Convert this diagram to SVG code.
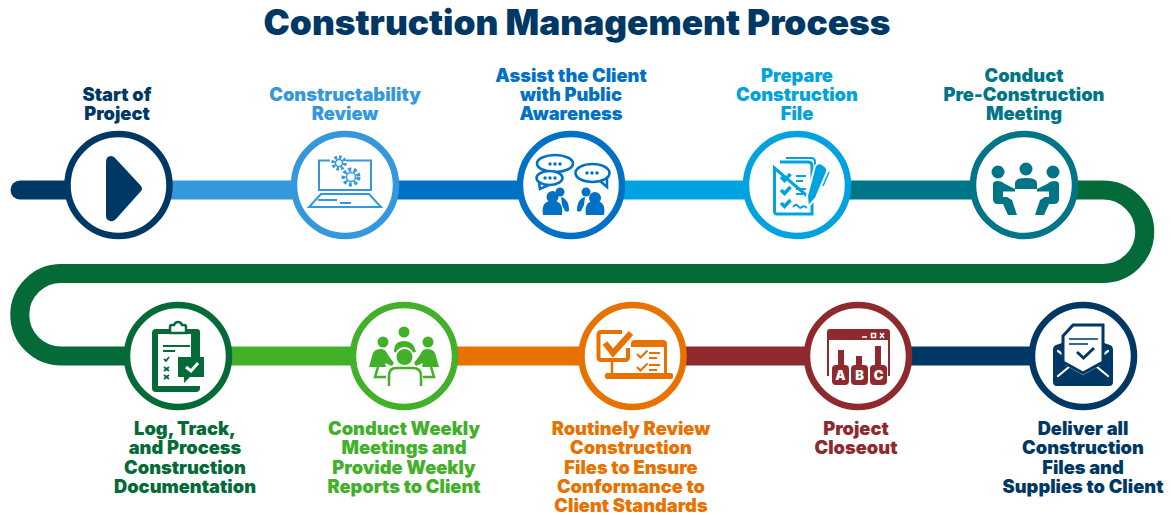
<svg xmlns="http://www.w3.org/2000/svg" width="1171" height="515" viewBox="0 0 1171 515">
<style>
text{font-family:"Inter","Liberation Sans",sans-serif;font-weight:900;text-anchor:middle;font-size:18.3px}
.title{font-size:35px}
text.abc{font-size:13px;fill:#fff}
.ring{fill:#fff;stroke-width:6.5}
.bar{fill:none;stroke-width:19}
.navy{fill:#003865}.sky{fill:#3698dc}.blue{fill:#0071c5}.cyan{fill:#00a3e0}.teal{fill:#007588}.dg{fill:#046a38}.lg{fill:#43b02a}.or{fill:#e87200}.red{fill:#8e2a2e}
</style>
<text class="title navy" x="577" y="35" textLength="627" lengthAdjust="spacingAndGlyphs">Construction Management Process</text>
<g id="connectors" class="bar">
<path d="M20 190H119" stroke="#003865" stroke-linecap="round"/>
<path d="M119 190H345" stroke="#3698dc"/>
<path d="M345 190H571" stroke="#0071c5"/>
<path d="M571 190H797" stroke="#00a3e0"/>
<path d="M797 190H1024" stroke="#007588"/>
<path d="M1024 190H1103A41.750 41.750 0 0 1 1103 273.500H61A41.250 41.250 0 0 0 61 356H178" stroke="#046a38"/>
<path d="M178 356H404" stroke="#43b02a"/>
<path d="M404 356H632" stroke="#e87200"/>
<path d="M632 356H858" stroke="#8e2a2e"/>
<path d="M858 356H1083" stroke="#003865"/>
</g>
<g id="n1"><circle class="ring" cx="118.500" cy="185" r="51" stroke="#003865"/><path class="navy" d="M106 162q0-6 5-6 3 0 5 3l25 27q2 3 0 5l-25 28q-3 3-6 2-4-1-4-5z"/>
<text class="navy" x="117" y="101">Start of</text><text class="navy" x="117" y="120">Project</text></g>
<g id="n2"><circle class="ring" cx="345" cy="185" r="51" stroke="#3698dc"/>
<g fill="none" stroke="#3698dc" stroke-width="2"><path d="M330 160.500H319V190H371V160.500H346"/><path d="M321 194L309 207H381L369 194ZM318 200H337M340 203H351"/><circle cx="339" cy="163" r="6" stroke-width="3.500" stroke-dasharray="2.600 2"/><circle cx="339" cy="163" r="3.500" stroke-width="1.500"/><circle cx="351" cy="177" r="7.500" fill="#fff" stroke-width="4" stroke-dasharray="3 2.400"/><circle cx="351" cy="177" r="4.500" stroke-width="1.500"/></g>
<text class="sky" x="345" y="101">Constructability</text><text class="sky" x="345" y="120">Review</text></g>
<g id="n3"><circle class="ring" cx="571" cy="185" r="51" stroke="#0071c5"/>
<g fill="none" stroke="#0071c5" stroke-width="2.600"><ellipse cx="555" cy="163.500" rx="18" ry="8.500"/><ellipse cx="549.500" cy="178" rx="13" ry="7" fill="#fff"/><path d="M539 183L540 189L549 185"/><ellipse cx="592.500" cy="173" rx="17" ry="9"/><path d="M600 181L607 187L607 177"/></g>
<g class="blue"><circle cx="550" cy="164" r="1.700"/><circle cx="555" cy="164" r="1.700"/><circle cx="560" cy="164" r="1.700"/><circle cx="545" cy="178" r="1.700"/><circle cx="550" cy="178" r="1.700"/><circle cx="555" cy="178" r="1.700"/><circle cx="587" cy="173" r="1.700"/><circle cx="592" cy="173" r="1.700"/><circle cx="597" cy="173" r="1.700"/>
<circle cx="560" cy="192" r="4.500"/><path d="M561 197c5 1 8 6 8 13 0 2-2 2-4 1l-3-6z"/><circle cx="552.500" cy="197" r="6"/><path d="M543 215c-2-12 4-14 9.500-14s11 2 9.500 14z"/><circle cx="586" cy="192" r="4.500"/><path d="M585 197c-5 1-8 6-8 13 0 2 2 2 4 1l3-6z"/><circle cx="595" cy="198" r="6"/><path d="M586 215c-2-12 4-14 9-14s11 2 9 14z"/></g>
<text class="blue" x="571" y="82">Assist the Client</text><text class="blue" x="571" y="101">with Public</text><text class="blue" x="571" y="120">Awareness</text></g>
<g id="n4"><circle class="ring" cx="797" cy="185" r="51" stroke="#00a3e0"/>
<path d="M786 158H811Q815 158 815 162V168" fill="none" stroke="#00a3e0" stroke-width="2"/><path d="M780 162H808Q812 162 812 166V180M812 200V214H777Q774.500 214 774.500 211V168Z" fill="none" stroke="#00a3e0" stroke-width="3"/>
<path d="M781 177l3.500 3.500 6-6.500M781 190l3.500 3.500 6-6.500M781 203l3.500 3.500 6-6.500" fill="none" stroke="#00a3e0" stroke-width="3.500"/><path d="M796 176H806M796 181H803M796 189H806M796 194H803M793 207q3-4 5-1t4 1 5 1" fill="none" stroke="#00a3e0" stroke-width="2"/>
<path class="cyan" stroke="#fff" stroke-width="2" d="M815 166q3-4 7-2l4 3q2 2 1 5l-11 26-8 9-1-11z"/>
<path d="M829 172L823 186" stroke="#00a3e0" stroke-width="1.500"/>
<text class="cyan" x="797" y="82">Prepare</text><text class="cyan" x="797" y="101">Construction</text><text class="cyan" x="797" y="120">File</text></g>
<g id="n5"><circle class="ring" cx="1024" cy="185" r="51" stroke="#007588"/>
<g class="teal"><circle cx="998" cy="172" r="6.500"/><circle cx="1026" cy="169" r="6.500"/><circle cx="1053" cy="172" r="6.500"/><path d="M1015 189v-6q0-5 11-5t11 5v6z"/>
<path d="M993 184Q993 181 998 181Q1002 181 1005 184L1015 189V192H1003V197H1007L1012 200L1017 215H1008L1003 204H998Q993 204 993 199Z"/>
<path d="M1059 184Q1059 181 1054 181Q1050 181 1047 184L1037 189V192H1049V197H1045L1040 200L1035 215H1044L1049 204H1054Q1059 204 1059 199Z"/></g>
<path d="M1003 192.500H1049" stroke="#fff" stroke-width="2"/>
<text class="teal" x="1024" y="82">Conduct</text><text class="teal" x="1024" y="101">Pre-Construction</text><text class="teal" x="1024" y="120">Meeting</text></g>
<g id="n6"><circle class="ring" cx="178" cy="356" r="51" stroke="#046a38"/>
<path class="dg" d="M156 329H197Q200 329 200 332V358H191V334H158V386H200V388Q200 392 196 392H156Q152 392 152 388V333Q152 329 156 329Z"/>
<path d="M170 330V327Q170 325 172 325H174Q175 322 178 322T182 325H184Q186 325 186 327V333H170Z" fill="#fff" stroke="#046a38" stroke-width="2.500"/>
<path d="M163 346H190M163 351H175M164 359l2 2 3-4M164 367l5 4M169 367l-5 4M164 375l5 4M169 375l-5 4" fill="none" stroke="#046a38" stroke-width="1.800"/>
<path class="dg" d="M178 357H204V377H190L184 383V377H178Z"/><path d="M186 367l5 4 7-8" fill="none" stroke="#fff" stroke-width="3"/>
<text class="dg" x="185" y="435">Log, Track,</text><text class="dg" x="185" y="454">and Process</text><text class="dg" x="185" y="474">Construction</text><text class="dg" x="185" y="493">Documentation</text></g>
<g id="n7"><circle class="ring" cx="404" cy="356" r="51" stroke="#43b02a"/>
<g class="lg"><circle cx="404" cy="332" r="5.500"/><circle cx="383" cy="342" r="5.500"/><circle cx="428" cy="342" r="5.500"/><path d="M394 352q0-11 10-11t12 11l-5 1h-13z"/><path d="M369 367l4-14q2-4 8-4 5 0 7 6l6 8-2 3-7-3 1 4z"/><path d="M439 367l-4-14q-2-4-8-4-5 0-7 6l-6 8 2 3 7-3-1 4z"/><circle cx="404.500" cy="357" r="9" stroke="#fff" stroke-width="2"/></g>
<path d="M389 386V376Q389 368 396 368H413Q421 368 421 376V386M378 367L375 377H386M431 367L434 377H423" fill="none" stroke="#43b02a" stroke-width="2.500"/>
<text class="lg" x="404" y="435">Conduct Weekly</text><text class="lg" x="404" y="454">Meetings and</text><text class="lg" x="404" y="474">Provide Weekly</text><text class="lg" x="404" y="493">Reports to Client</text></g>
<g id="n8"><circle class="ring" cx="632.500" cy="356" r="51" stroke="#e87200"/>
<path d="M622 332H601Q598.500 332 598.500 335V357Q598.500 360 601 360H625Q628 360 628 357V348" fill="none" stroke="#e87200" stroke-width="4"/><path d="M605 343l8 10 18-20" fill="none" stroke="#e87200" stroke-width="6"/>
<path d="M612 360V373" stroke="#e87200" stroke-width="2.500"/>
<path class="or" d="M631 344Q631 340 635 340H663Q667 340 667 344V373H664V347H631Z"/>
<rect x="605" y="373" width="68" height="6" rx="2" class="or"/>
<path d="M637 354l3.500 3.500 7-7M637 367l3.500 3.500 7-7M649 353H660M649 358H657M649 365H660M649 370H657" fill="none" stroke="#e87200" stroke-width="2.200"/>
<text class="or" x="631" y="435">Routinely Review</text><text class="or" x="631" y="454">Construction</text><text class="or" x="631" y="474">Files to Ensure</text><text class="or" x="631" y="493">Conformance to</text><text class="or" x="631" y="512">Client Standards</text></g>
<g id="n9"><circle class="ring" cx="858" cy="356" r="51" stroke="#8e2a2e"/>
<path class="red" d="M830 329H887Q890 329 890 332V340H827V332Q827 329 830 329Z"/><path d="M828 340V376M889 340V376" stroke="#8e2a2e" stroke-width="2"/>
<rect x="838" y="350" width="6" height="16" class="red"/><rect x="856" y="356" width="6" height="10" class="red"/><rect x="875" y="346" width="6" height="20" class="red"/>
<rect x="832" y="365" width="17" height="20" rx="4" class="red"/><rect x="851" y="365" width="17" height="20" rx="4" class="red"/><rect x="870" y="365" width="17" height="20" rx="4" class="red"/>
<text class="abc" x="840.500" y="380">A</text><text class="abc" x="859.500" y="380">B</text><text class="abc" x="878.500" y="380">C</text>
<path d="M862 337H867M871.500 333.500H875.500V337.500H871.500ZM880 333L884 338M884 333L880 338" fill="none" stroke="#fff" stroke-width="1.600"/>
<text class="red" x="856" y="435">Project</text><text class="red" x="856" y="454">Closeout</text></g>
<g id="n10"><circle class="ring" cx="1083" cy="356" r="51" stroke="#003865"/>
<path class="navy" d="M1056 345L1065 342V365L1083 375L1101 365V342L1110 345Q1113 346 1113 350V382Q1113 386 1109 386H1057Q1053 386 1053 382V350Q1053 346 1056 345Z"/>
<path d="M1058 376L1069 367M1108 376L1097 367M1058 351L1062 354M1108 351L1104 354" stroke="#fff" stroke-width="2.200" stroke-linecap="round"/>
<path d="M1063 336L1073 325H1103V362L1083 373L1063 362Z" fill="#fff" stroke="#003865" stroke-width="3"/>
<path d="M1069 339H1098M1069 344H1088" stroke="#003865" stroke-width="1.500"/><path d="M1077 352l6.500 6 10.500-10" fill="none" stroke="#003865" stroke-width="3"/>
<text class="navy" x="1083" y="435">Deliver all</text><text class="navy" x="1083" y="454">Construction</text><text class="navy" x="1083" y="474">Files and</text><text class="navy" x="1083" y="493">Supplies to Client</text></g>
</svg>
